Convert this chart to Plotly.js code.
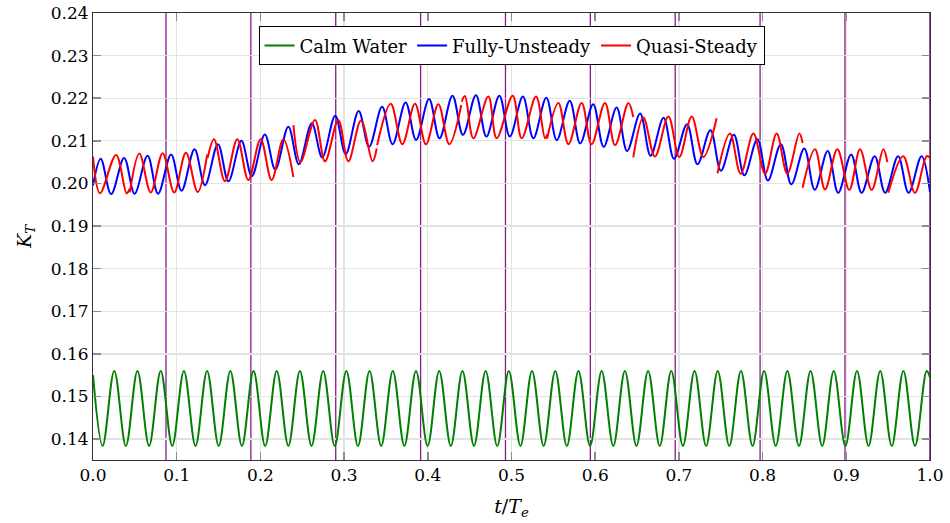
<!DOCTYPE html>
<html>
<head>
<meta charset="utf-8">
<script src="https://cdn.plot.ly/plotly-3.0.1.min.js"></script>
<style>html,body{margin:0;padding:0;background:#fff}#chart{width:950px;height:523px}</style>
</head>
<body>
<div id="chart"></div>
<script>
// ---- data (extrema of each signal, t/Te vs K_T) ----
const calmT = [0, 0.0115, 0.0254, 0.0393, 0.0531, 0.0670, 0.0809, 0.0947, 0.1086, 0.1225, 0.1363, 0.1502, 0.1641, 0.1779, 0.1918, 0.2057, 0.2195, 0.2334, 0.2472, 0.2611, 0.2750, 0.2888, 0.3027, 0.3166, 0.3304, 0.3443, 0.3582, 0.3720, 0.3859, 0.3998, 0.4136, 0.4275, 0.4414, 0.4552, 0.4691, 0.4830, 0.4968, 0.5107, 0.5245, 0.5384, 0.5523, 0.5661, 0.5800, 0.5939, 0.6077, 0.6216, 0.6355, 0.6493, 0.6632, 0.6771, 0.6909, 0.7048, 0.7187, 0.7325, 0.7464, 0.7602, 0.7741, 0.7880, 0.8018, 0.8157, 0.8296, 0.8434, 0.8573, 0.8712, 0.8850, 0.8989, 0.9128, 0.9266, 0.9405, 0.9543, 0.9682, 0.9821, 0.9960, 1.0];
const calmKT = [0.1550, 0.1384, 0.1560, 0.1384, 0.1560, 0.1384, 0.1560, 0.1384, 0.1560, 0.1384, 0.1560, 0.1384, 0.1560, 0.1384, 0.1560, 0.1384, 0.1560, 0.1384, 0.1560, 0.1384, 0.1560, 0.1384, 0.1560, 0.1384, 0.1560, 0.1384, 0.1560, 0.1384, 0.1560, 0.1384, 0.1560, 0.1384, 0.1560, 0.1384, 0.1560, 0.1384, 0.1560, 0.1384, 0.1560, 0.1384, 0.1560, 0.1384, 0.1560, 0.1384, 0.1560, 0.1384, 0.1560, 0.1384, 0.1560, 0.1384, 0.1560, 0.1384, 0.1560, 0.1384, 0.1560, 0.1384, 0.1560, 0.1384, 0.1560, 0.1384, 0.1560, 0.1384, 0.1560, 0.1384, 0.1560, 0.1384, 0.1560, 0.1384, 0.1560, 0.1384, 0.1560, 0.1384, 0.1560, 0.1545];

const unsteadyT = [0, 0.0092, 0.0217, 0.0372, 0.0497, 0.0652, 0.0777, 0.0933, 0.1058, 0.1213, 0.1338, 0.1493, 0.1618, 0.1773, 0.1898, 0.2053, 0.2178, 0.2334, 0.2459, 0.2614, 0.2739, 0.2894, 0.3019, 0.3174, 0.3299, 0.3454, 0.3579, 0.3735, 0.3860, 0.4015, 0.4140, 0.4295, 0.4420, 0.4575, 0.4700, 0.4855, 0.4980, 0.5136, 0.5261, 0.5416, 0.5541, 0.5696, 0.5821, 0.5976, 0.6101, 0.6256, 0.6381, 0.6537, 0.6662, 0.6817, 0.6942, 0.7097, 0.7222, 0.7377, 0.7502, 0.7657, 0.7782, 0.7938, 0.8063, 0.8218, 0.8343, 0.8498, 0.8623, 0.8778, 0.8903, 0.9058, 0.9183, 0.9339, 0.9464, 0.9619, 0.9744, 0.9899, 1.0];
const unsteadyKT = [0.1995, 0.2058, 0.1975, 0.2060, 0.1976, 0.2065, 0.1976, 0.2068, 0.1983, 0.2080, 0.1996, 0.2092, 0.2005, 0.2100, 0.2017, 0.2115, 0.2033, 0.2133, 0.2045, 0.2141, 0.2061, 0.2159, 0.2069, 0.2170, 0.2086, 0.2180, 0.2092, 0.2190, 0.2102, 0.2198, 0.2106, 0.2206, 0.2114, 0.2207, 0.2110, 0.2206, 0.2110, 0.2204, 0.2106, 0.2201, 0.2102, 0.2194, 0.2094, 0.2186, 0.2086, 0.2178, 0.2076, 0.2164, 0.2065, 0.2154, 0.2058, 0.2139, 0.2045, 0.2125, 0.2030, 0.2114, 0.2019, 0.2104, 0.2007, 0.2092, 0.1998, 0.2082, 0.1985, 0.2076, 0.1978, 0.2068, 0.1978, 0.2064, 0.1978, 0.2064, 0.1978, 0.2064, 0.1980];

// quasi-steady: piecewise segments, separated by null
const quasiT = [
  0, 0.0084, 0.0275, 0.0402, 0.0438, null,
  0.0440, 0.0554, 0.0690, 0.0832, 0.0970, 0.1110, 0.1250, 0.1365, null,
  0.1370, 0.1446, 0.1577, 0.1724, 0.1856, 0.2003, 0.2134, 0.2274, 0.2394, null,
  0.2394, 0.2478, 0.2652, 0.2772, 0.2931, 0.3050, 0.3202, 0.3340, 0.3390, null,
  0.3395, 0.3557, 0.3696, 0.3847, 0.3978, 0.4126, 0.4257, 0.4400, null,
  0.4405, 0.4444, 0.4544, 0.4723, 0.4823, 0.5014, 0.5122, 0.5293, 0.5400, 0.5425, null,
  0.5425, 0.5560, 0.5680, 0.5838, 0.5957, 0.6117, 0.6237, 0.6396, 0.6455, null,
  0.6455, 0.6575, 0.6714, 0.6874, 0.7005, 0.7153, 0.7292, 0.7451, null,
  0.7461, 0.7610, 0.7738, 0.7890, 0.8030, 0.8168, 0.8295, 0.8439, 0.8478, null,
  0.8478, 0.8626, 0.8746, 0.8893, 0.9036, 0.9164, 0.9303, 0.9442, 0.9490, null,
  0.9502, 0.9680, 0.9820, 0.9960, 1.0
];
const quasiKT = [
  0.2063, 0.1977, 0.2067, 0.1977, 0.1988, null,
  0.1979, 0.2070, 0.1979, 0.2071, 0.1979, 0.2072, 0.1980, 0.2068, null,
  0.2060, 0.2104, 0.2005, 0.2104, 0.2008, 0.2104, 0.2008, 0.2104, 0.2015, null,
  0.2137, 0.2050, 0.2149, 0.2052, 0.2149, 0.2052, 0.2148, 0.2052, 0.2082, null,
  0.2090, 0.2187, 0.2092, 0.2187, 0.2092, 0.2186, 0.2092, 0.2184, null,
  0.2192, 0.2205, 0.2106, 0.2204, 0.2106, 0.2206, 0.2106, 0.2204, 0.2106, 0.2115, null,
  0.2105, 0.2189, 0.2092, 0.2189, 0.2092, 0.2189, 0.2090, 0.2189, 0.2156, null,
  0.2061, 0.2155, 0.2063, 0.2157, 0.2062, 0.2157, 0.2062, 0.2153, null,
  0.2024, 0.2117, 0.2023, 0.2117, 0.2023, 0.2117, 0.2023, 0.2117, 0.2095, null,
  0.1990, 0.2080, 0.1986, 0.2080, 0.1985, 0.2080, 0.1985, 0.2080, 0.2050, null,
  0.1978, 0.2064, 0.1978, 0.2064, 0.2060
];

// vertical purple marker lines (t/Te)
const markerT = [0.0872, 0.1886, 0.2900, 0.3914, 0.4928, 0.5942, 0.6956, 0.7970, 0.8984, 0.9998];

const seriesNames = ['Calm Water', 'Fully-Unsteady', 'Quasi-Steady'];
const xTickVals = [0, 0.1, 0.2, 0.3, 0.4, 0.5, 0.6, 0.7, 0.8, 0.9, 1.0];
const yTickVals = [0.14, 0.15, 0.16, 0.17, 0.18, 0.19, 0.20, 0.21, 0.22, 0.23, 0.24];

// ---- plot ----
const FONT = 'DejaVu Serif';
const lineStyle = (c) => ({color: c, width: 2, shape: 'spline', smoothing: 1});

const traces = [
  {x: calmT, y: calmKT, name: seriesNames[0], mode: 'lines', line: lineStyle('#008000')},
  {x: unsteadyT, y: unsteadyKT, name: seriesNames[1], mode: 'lines', line: lineStyle('#0000ff')},
  {x: quasiT, y: quasiKT, name: seriesNames[2], mode: 'lines', connectgaps: false, line: lineStyle('#ff0000')}
];

const shapes = markerT.map(t => ({
  type: 'line', xref: 'x', yref: 'paper', x0: t, x1: t, y0: 0, y1: 1,
  line: {color: '#8a1a8a', width: 1.3}, layer: 'between'
}));

const axisCommon = {
  showline: true, linecolor: '#333', linewidth: 1, mirror: 'ticks',
  ticks: 'inside', ticklen: 8, tickwidth: 1.5, tickcolor: '#8c8c8c',
  showgrid: true, gridcolor: '#e3e3e3', gridwidth: 1.3, zeroline: false,
  tickfont: {family: FONT, size: 17, color: '#000'}
};

const layout = {
  width: 950, height: 523,
  margin: {l: 93, r: 20, t: 13, b: 63},
  paper_bgcolor: '#fff', plot_bgcolor: '#fff',
  font: {family: FONT, color: '#000', size: 17},
  showlegend: true,
  legend: {
    orientation: 'h', x: 0.5, xanchor: 'center', y: 0.97, yanchor: 'top',
    bordercolor: '#000', borderwidth: 1, bgcolor: '#fff',
    font: {family: FONT, size: 18, color: '#000'}, itemwidth: 30
  },
  xaxis: Object.assign({}, axisCommon, {
    range: [0, 1], tickvals: xTickVals, tickformat: '.1f',
    title: {text: '<i>t</i>/<i>T</i><sub><i>e</i></sub>', font: {family: FONT, size: 19}, standoff: 15}
  }),
  yaxis: Object.assign({}, axisCommon, {
    range: [0.1351, 0.24], tickvals: yTickVals, tickformat: '.2f',
    title: {text: '<i>K</i><sub><i>T</i></sub>', font: {family: FONT, size: 19}, standoff: 14}
  }),
  shapes: shapes
};

Plotly.newPlot('chart', traces, layout, {displayModeBar: false, staticPlot: true});
</script>
</body>
</html>
